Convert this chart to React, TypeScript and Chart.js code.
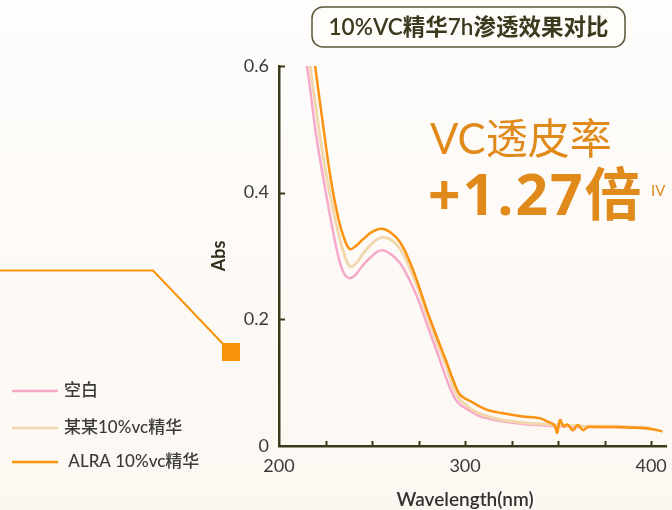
import React, { useEffect, useRef } from "react";
import { Chart, registerables } from "chart.js";

Chart.register(...registerables);

// ---- data ----
const wavelengths = [
  212, 216, 220, 224, 228, 232, 235, 238, 241, 245, 250, 255, 260, 265, 270, 275, 280, 285, 290, 294,
  297, 300, 304, 308, 313, 320, 330, 340, 344, 348, 349.5, 351, 353, 355, 358, 360.5, 363.5, 366, 370,
  380, 390, 400, 406,
];
const blankAbs = [
  0.66, 0.58, 0.49, 0.42, 0.355, 0.298, 0.272, 0.265, 0.27, 0.285, 0.3, 0.309, 0.303, 0.289, 0.263, 0.23,
  0.188, 0.148, 0.106, 0.078, 0.066, 0.06, 0.053, 0.047, 0.043, 0.039, 0.035, 0.033, 0.032, 0.031, 0.031,
  0.031, 0.031, 0.031, 0.03, 0.03, 0.03, 0.03, 0.03, 0.03, 0.029, 0.028, null,
];
const brandAbs = [
  0.7, 0.615, 0.531, 0.452, 0.389, 0.335, 0.303, 0.284, 0.287, 0.303, 0.32, 0.329, 0.326, 0.312, 0.283,
  0.247, 0.203, 0.163, 0.125, 0.09, 0.074, 0.066, 0.057, 0.051, 0.046, 0.041, 0.037, 0.035, 0.034, 0.033,
  0.033, 0.033, 0.033, 0.032, 0.032, 0.032, 0.031, 0.031, 0.031, 0.031, 0.03, 0.029, null,
];
const alraAbs = [
  0.76, 0.675, 0.587, 0.5, 0.418, 0.358, 0.328, 0.311, 0.315, 0.326, 0.338, 0.343, 0.337, 0.322, 0.293,
  0.254, 0.21, 0.171, 0.133, 0.101, 0.082, 0.075, 0.069, 0.062, 0.056, 0.052, 0.047, 0.044, 0.039, 0.033,
  0.021, 0.041, 0.031, 0.034, 0.025, 0.033, 0.025, 0.03, 0.03, 0.03, 0.029, 0.027, 0.023,
];
const seriesLabels = ["空白", "某某10%vc精华", " ALRA 10%vc精华"];
const seriesColors = ["#f7a9c9", "#f1d7ae", "#fb9210"];
const xTickValues = [225, 250, 275, 300, 325, 350, 375, 400];
const xLabelValues = [200, 300, 400];
const yTickValues = [0.2, 0.4, 0.6];
const yLabelValues = [0, 0.2, 0.4, 0.6];
const chartTitle = "10%VC精华7h渗透效果对比";
const xTitle = "Wavelength(nm)";
const yTitle = "Abs";
const headline = "VC透皮率";
const headlineValue = "+1.27倍";
const footnoteMark = "IV";

const LATIN = "Lato, 'Noto Sans CJK SC', sans-serif";
const BOLDF = "'Open Sans', 'Noto Sans CJK SC', sans-serif";
const AXIS = "#3b3a1c";
const TEXT = "#3a3a3a";
const ORANGE_TEXT = "#e08a1c";

const decorPlugin = {
  id: "decor",
  beforeDraw(chart: any) {
    const { ctx, width, height } = chart;
    ctx.save();
    const g = ctx.createLinearGradient(0, 0, 0, height);
    g.addColorStop(0, "#fefdfc");
    g.addColorStop(1, "#fcf7f1");
    ctx.fillStyle = g;
    ctx.fillRect(0, 0, width, height);
    ctx.restore();
  },
  afterDraw(chart: any) {
    const { ctx } = chart;
    const xs = chart.scales.x;
    const ys = chart.scales.y;
    const area = chart.chartArea;
    ctx.save();

    // tick marks (inward)
    ctx.strokeStyle = AXIS;
    ctx.lineWidth = 2;
    xTickValues.forEach((v) => {
      const px = Math.round(xs.getPixelForValue(v)) + 0.5;
      ctx.beginPath();
      ctx.moveTo(px, area.bottom);
      ctx.lineTo(px, area.bottom - 5);
      ctx.stroke();
    });
    yTickValues.forEach((v) => {
      const py = Math.round(ys.getPixelForValue(v)) + 0.5;
      ctx.beginPath();
      ctx.moveTo(area.left, py);
      ctx.lineTo(area.left + 6, py);
      ctx.stroke();
    });

    // tick labels
    ctx.fillStyle = TEXT;
    ctx.font = `18px ${LATIN}`;
    ctx.textAlign = "center";
    ctx.textBaseline = "middle";
    xLabelValues.forEach((v) => {
      ctx.fillText(String(v), xs.getPixelForValue(v), area.bottom + 20);
    });
    ctx.textAlign = "right";
    yLabelValues.forEach((v) => {
      ctx.fillText(String(v), area.left - 10, ys.getPixelForValue(v));
    });

    // axis titles
    ctx.font = `600 19px ${LATIN}`;
    ctx.textAlign = "center";
    ctx.fillStyle = "#333";
    ctx.fillText(xTitle, xs.getPixelForValue(300), area.bottom + 54);
    ctx.save();
    ctx.translate(area.left - 60, (area.top + area.bottom) / 2);
    ctx.rotate(-Math.PI / 2);
    ctx.fillStyle = "#2e2e1a";
    ctx.font = `700 18px ${LATIN}`;
    ctx.fillText(yTitle, 0, 0);
    ctx.restore();

    // title box
    const bx = 312, by = 7, bw = 313, bh = 40, r = 11;
    ctx.beginPath();
    ctx.moveTo(bx + r, by);
    ctx.arcTo(bx + bw, by, bx + bw, by + bh, r);
    ctx.arcTo(bx + bw, by + bh, bx, by + bh, r);
    ctx.arcTo(bx, by + bh, bx, by, r);
    ctx.arcTo(bx, by, bx + bw, by, r);
    ctx.closePath();
    ctx.fillStyle = "#fefdfa";
    ctx.fill();
    ctx.strokeStyle = "#5a573a";
    ctx.lineWidth = 1.5;
    ctx.stroke();
    ctx.fillStyle = "#3b3a1e";
    ctx.font = `600 22.5px ${LATIN}`;
    ctx.textAlign = "center";
    ctx.textBaseline = "middle";
    ctx.fillText(chartTitle, bx + bw / 2, by + bh / 2 + 1);

    // headline
    ctx.textAlign = "left";
    ctx.textBaseline = "alphabetic";
    ctx.fillStyle = ORANGE_TEXT;
    ctx.font = `400 42px ${LATIN}`;
    ctx.fillText(headline, 430, 154);
    ctx.font = `700 57px ${BOLDF}`;
    (ctx as any).letterSpacing = "2px";
    ctx.fillText(headlineValue, 428, 215);
    (ctx as any).letterSpacing = "0px";
    ctx.font = `400 15px ${LATIN}`;
    ctx.fillText(footnoteMark, 651, 196);

    // decorative connector
    ctx.strokeStyle = "#f7930a";
    ctx.lineWidth = 2;
    ctx.beginPath();
    ctx.moveTo(0, 270.5);
    ctx.lineTo(153, 270.5);
    ctx.lineTo(224, 345);
    ctx.stroke();
    ctx.fillStyle = "#f7930a";
    ctx.fillRect(222, 343, 18, 18);

    // legend
    const legendY = [391, 428, 462];
    chart.data.datasets.forEach((ds: any, i: number) => {
      ctx.strokeStyle = ds.borderColor;
      ctx.lineWidth = 2.5;
      ctx.beginPath();
      ctx.moveTo(12, legendY[i]);
      ctx.lineTo(58, legendY[i]);
      ctx.stroke();
      ctx.fillStyle = TEXT;
      ctx.font = `500 17px ${LATIN}`;
      ctx.textAlign = "left";
      ctx.textBaseline = "middle";
      ctx.fillText(ds.label, 64, legendY[i]);
    });

    ctx.restore();
  },
};

export default function App() {
  const ref = useRef<HTMLCanvasElement | null>(null);
  useEffect(() => {
    if (!ref.current) return;
    const mk = (vals: (number | null)[]) => wavelengths.map((w, i) => ({ x: w, y: vals[i] }));
    const chart = new Chart(ref.current, {
      type: "line",
      data: {
        datasets: [
          { label: seriesLabels[0], data: mk(blankAbs), borderColor: seriesColors[0], borderWidth: 2.5, order: 2 },
          { label: seriesLabels[1], data: mk(brandAbs), borderColor: seriesColors[1], borderWidth: 3, order: 1 },
          { label: seriesLabels[2], data: mk(alraAbs), borderColor: seriesColors[2], borderWidth: 2.5, order: 0 },
        ] as any,
      },
      options: {
        animation: false,
        responsive: false,
        maintainAspectRatio: false,
        devicePixelRatio: 1,
        layout: { padding: { left: 279, right: 6, top: 66, bottom: 64 } },
        elements: {
          point: { radius: 0 },
          line: { tension: 0.4, fill: false, capBezierPoints: true },
        },
        plugins: { legend: { display: false }, tooltip: { enabled: false }, title: { display: false } },
        scales: {
          x: {
            type: "linear",
            min: 200,
            max: 408,
            grid: { display: false, drawTicks: false },
            ticks: { display: false },
            border: { display: true, color: AXIS, width: 2.5 },
          },
          y: {
            type: "linear",
            min: 0,
            max: 0.6,
            grid: { display: false, drawTicks: false },
            ticks: { display: false },
            border: { display: true, color: AXIS, width: 2.5 },
          },
        },
      } as any,
      plugins: [decorPlugin],
    });
    return () => chart.destroy();
  }, []);
  return (
    <div style={{ position: "absolute", left: 0, top: 0, width: 672, height: 510 }}>
      <canvas ref={ref} width={672} height={510} style={{ width: 672, height: 510 }} />
    </div>
  );
}
